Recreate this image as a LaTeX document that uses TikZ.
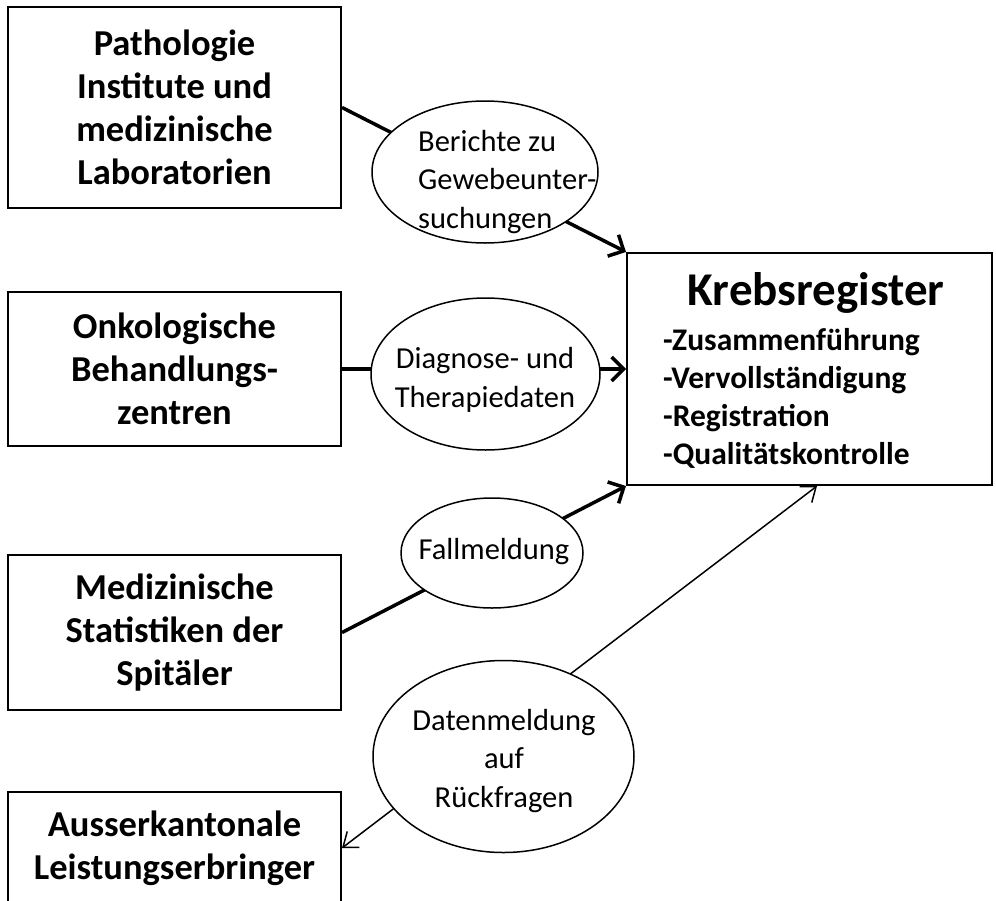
\documentclass[tikz,border=0pt]{standalone}
\usepackage{fontspec}
\setmainfont{Carlito}
\usetikzlibrary{positioning,shapes.geometric,arrows.meta}

\tikzset{
  srcbox/.style={draw, line width=2pt, minimum width=333pt, inner sep=0pt,
    align=center, font=\fontsize{36.5}{43}\selectfont\bfseries},
  regbox/.style={draw, line width=2pt, minimum width=365pt, minimum height=232pt},
  bubble/.style={draw, ellipse, fill=white, line width=1.5pt, inner sep=0pt},
  bubbletext/.style={inner sep=0pt, align=center, font=\fontsize{30.5}{38.5}\selectfont},
  tasktext/.style={inner sep=0pt, font=\fontsize{31.5}{38}\selectfont\bfseries},
  flow/.style={line width=3.5pt, -{Straight Barb[length=12pt,width=24pt]}},
  query/.style={line width=1.5pt, {Straight Barb[length=13pt,width=20pt]}-{Straight Barb[length=13pt,width=20pt]}}
}

\begin{document}
\begin{tikzpicture}[x=1pt,y=-1pt]
\useasboundingbox (0,0) rectangle (996,900);

% Quellen links
\node[srcbox, minimum height=201pt] (patho) at (174.5,107.5)
  {Pathologie\\Institute und\\medizinische\\Laboratorien};
\node[srcbox, minimum height=154pt] (onko) at (174.5,369)
  {Onkologische\\Behandlungs-\\zentren};
\node[srcbox, minimum height=155pt] (spital) at (174.5,632.5)
  {Medizinische\\Statistiken der\\Spitäler};
\node[srcbox, minimum height=112pt] (extern) at (174.5,848)
  {Ausserkantonale\\Leistungserbringer};

% Register
\node[regbox] (krebs) at (809.5,369) {};
\node[anchor=base, inner sep=0pt, font=\fontsize{47}{56}\selectfont\bfseries]
  (krebstitle) at (816,305) {Krebsregister};
\foreach \task [count=\i from 0] in {-Zusammenführung, -Vervollständigung,
    -Registration, -Qualitätskontrolle}
  \node[tasktext, anchor=base west] (task\i) at (663,350+38.3*\i) {\task};
\coordinate (rueck) at ([xshift=7.5pt]krebs.south);

% Verbindungen
\draw[flow] (patho.east) -- (krebs.north west);
\draw[flow] (onko.east) -- (krebs.west);
\draw[flow] (spital.east) -- (krebs.south west);
\draw[query] (rueck) -- (extern.east);

% Meldungen
\node[bubble, minimum width=226pt, minimum height=142pt] (bericht) at (485,172) {};
\node[bubbletext, align=left, anchor=west] (berichttext) at (418,182)
  {Berichte zu\\Gewebeunter-\\suchungen};
\node[bubble, minimum width=229pt, minimum height=152pt] (diagnose) at (485.5,374) {};
\node[bubbletext] (diagnosetext) at (485,380) {Diagnose- und\\Therapiedaten};
\node[bubble, minimum width=182pt, minimum height=110pt] (fall) at (492,553) {};
\node[bubbletext] (falltext) at (494,552) {Fallmeldung};
\node[bubble, minimum width=261pt, minimum height=192pt] (daten) at (503.5,756.5) {};
\node[bubbletext] (datentext) at (504,761) {Datenmeldung\\auf\\Rückfragen};

\end{tikzpicture}
\end{document}
